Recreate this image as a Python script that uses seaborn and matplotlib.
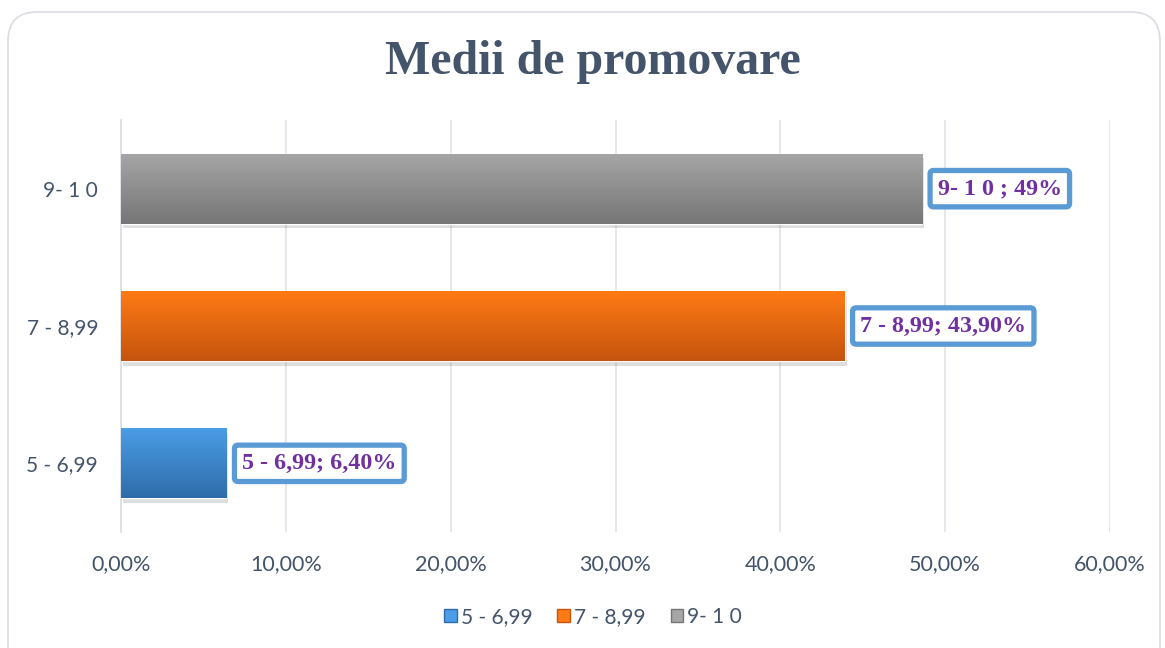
import numpy as np
import pandas as pd
import matplotlib
matplotlib.use("Agg")
import matplotlib.pyplot as plt
import seaborn as sns
from matplotlib.patches import FancyBboxPatch, Patch
from matplotlib.colors import LinearSegmentedColormap
import matplotlib.ticker as mticker

# ---- data ----
categories = ["5 - 6,99", "7 - 8,99", "9- 1 0"]
values = [6.4, 43.9, 48.6]
value_labels = ["6,40%", "43,90%", "49%"]
label_seps = ["; ", "; ", " ; "]
colors_top = ["#4A9DE6", "#FF7B15", "#A6A6A6"]
colors_bottom = ["#2F6DAA", "#C5540E", "#767676"]
xticks = [0, 10, 20, 30, 40, 50, 60]
title = "Medii de promovare"

sns.set_theme(style="white")
plt.rcParams['font.family'] = ['Lato', 'DejaVu Sans']

df = pd.DataFrame({"cat": categories, "val": values})
order = categories[::-1]

fig = plt.figure(figsize=(11.65, 6.48), dpi=100)
ax = fig.add_axes([121/1165, 1-532/648, (1110-121)/1165, (532-120)/648])

pal = dict(zip(categories, colors_top))
sns.barplot(data=df, y="cat", x="val", hue="cat", order=order, palette=pal,
            orient="h", width=0.51, legend=False, ax=ax, zorder=3)

ax.set_xlim(0, 60)
ax.set_xticks(xticks)
ax.xaxis.set_major_formatter(mticker.FuncFormatter(lambda v, p: f"{v:.2f}%".replace(".", ",")))
ax.set_xlabel("")
ax.set_ylabel("")
ax.set_ylim(2.5, -0.5)

text_color = "#44546A"
for patch in ax.patches:
    x0, y0 = patch.get_x(), patch.get_y()
    w, h = patch.get_width(), patch.get_height()
    yc = y0 + h / 2
    idx = int(round(yc))
    cat = order[idx]
    ci = categories.index(cat)
    cmap = LinearSegmentedColormap.from_list("g", [colors_top[ci], colors_bottom[ci]])
    grad = np.linspace(0, 1, 100).reshape(-1, 1)
    ax.add_patch(plt.Rectangle((x0 + 0.12, y0 + 0.035), w, h, color="#000000",
                               alpha=0.13, zorder=2, lw=0))
    im = ax.imshow(grad, extent=[x0, x0 + w, y0 + h, y0], aspect="auto",
                   cmap=cmap, zorder=4, origin="upper")
    im.set_clip_path(patch)
    ax.text(x0 + w + 0.95, yc, f"{cat}{label_seps[ci]}{value_labels[ci]}",
            va="center", ha="left", fontsize=17.3, fontweight="bold",
            family=["Liberation Serif", "DejaVu Serif"], color="#7030A0", zorder=6,
            bbox=dict(boxstyle="round,pad=0.32,rounding_size=0.15", fc="white",
                      ec="#5B9BD5", lw=3.8))

ax.set_xlim(0, 60)
ax.set_ylim(2.5, -0.5)

ax.grid(axis="x", color="#DDE1E8", lw=1.1, zorder=0)
ax.set_axisbelow(True)
for s in ["top", "right", "bottom"]:
    ax.spines[s].set_visible(False)
ax.spines["left"].set_color("#D9DDE4")
ax.spines["left"].set_linewidth(1.2)

ax.tick_params(axis="x", length=0, pad=16, labelsize=15.5, labelcolor=text_color)
ax.tick_params(axis="y", which="major", length=0, pad=16.5, labelsize=15, labelcolor=text_color)
ax.set_yticks([-0.5, 0.5, 1.5, 2.5], minor=True)
ax.tick_params(axis="y", which="minor", length=5, width=1.2, color="#D9DDE4")

fig.text(593/1165, 1-62/648, title, ha="center", va="center", fontsize=34.5,
         fontweight="bold", family=["Liberation Serif", "DejaVu Serif"], color=text_color)

handles = [Patch(facecolor=colors_top[i], edgecolor=colors_bottom[i], label=categories[i])
           for i in range(len(categories))]
fig.legend(handles=handles, loc="center", bbox_to_anchor=(593/1165, 1-617/648), ncol=3,
           frameon=False, fontsize=15, labelcolor=text_color, handlelength=0.6,
           handleheight=0.6, handletextpad=0.2, columnspacing=1.2)

border = FancyBboxPatch((8/1165, -0.05), 1152/1165, (648-12)/648 + 0.05,
                        boxstyle="round,pad=0,rounding_size=0.025",
                        transform=fig.transFigure, fc="none", ec="#D9DCE3", lw=1.2,
                        mutation_aspect=1165/648)
fig.patches.append(border)

fig.savefig("out.png", dpi=100)
